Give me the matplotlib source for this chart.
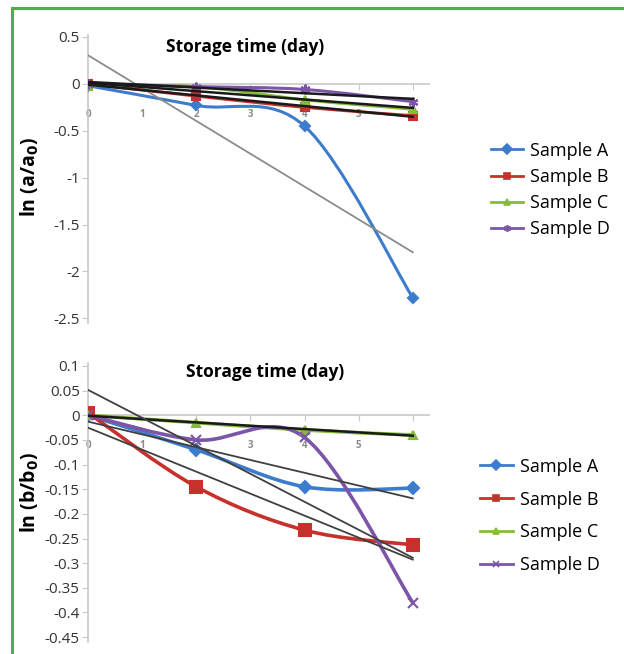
import matplotlib
matplotlib.use("Agg")
import matplotlib.pyplot as plt
import numpy as np
from matplotlib.path import Path
from matplotlib.patches import PathPatch
from matplotlib.lines import Line2D

plt.rcParams['font.family'] = ['Open Sans', 'DejaVu Sans']

days = [0, 2, 4, 6]
samples = ['Sample A', 'Sample B', 'Sample C', 'Sample D']

# ln(a/a0)
a_A = [-0.02, -0.23, -0.45, -2.28]
a_B = [0.0, -0.13, -0.25, -0.34]
a_C = [-0.02, -0.03, -0.17, -0.27]
a_D = [0.0, -0.03, -0.06, -0.19]

# ln(b/b0)
b_A = [0.0, -0.07, -0.145, -0.148]
b_B = [0.005, -0.145, -0.233, -0.263]
b_C = [0.0, -0.015, -0.03, -0.04]
b_D = [0.0, -0.05, -0.045, -0.38]

x_ticks = [0, 1, 2, 3, 4, 5, 6]
x_labels = ['0', '1', '2', '3', '4', '5', '']
top_yticks = [0.5, 0, -0.5, -1, -1.5, -2, -2.5]
bot_yticks = [0.1, 0.05, 0, -0.05, -0.1, -0.15, -0.2, -0.25, -0.3, -0.35, -0.4, -0.45]

colors = ['#3d7ccc', '#c8302c', '#86bb3c', '#7d55a8']


def smooth_path(x, y):
    # Excel-like smoothed line: cubic bezier segments through the points
    pts = np.column_stack([x, y]).astype(float)
    n = len(pts)
    verts = [pts[0]]
    codes = [Path.MOVETO]
    for i in range(n - 1):
        p0 = pts[i - 1] if i > 0 else pts[i]
        p1 = pts[i]
        p2 = pts[i + 1]
        p3 = pts[i + 2] if i + 2 < n else pts[i + 1]
        c1 = p1 + (p2 - p0) / 6.0
        c2 = p2 - (p3 - p1) / 6.0
        verts += [c1, c2, p2]
        codes += [Path.CURVE4] * 3
    return Path(verts, codes)


def draw_panel(ax, series, markers, msizes, trend_colors, trend_lw, lw):
    for ys, c, m, ms in zip(series, colors, markers, msizes):
        ax.add_patch(PathPatch(smooth_path(days, ys), facecolor='none',
                               edgecolor=c, lw=lw, zorder=3))
        ax.plot(days, ys, ls='none', marker=m, color=c, ms=ms,
                mew=1.5, zorder=4)
    for ys, tc, tlw in zip(series, trend_colors, trend_lw):
        k, b = np.polyfit(days, ys, 1)
        xs = np.array([0, 6])
        ax.plot(xs, k * xs + b, color=tc, lw=tlw, zorder=5)
    for s in ['top', 'right']:
        ax.spines[s].set_visible(False)
    ax.spines['bottom'].set_position(('data', 0))
    ax.spines['bottom'].set_color('#c8c8c8')
    ax.spines['left'].set_color('#c8c8c8')
    ax.spines['bottom'].set_linewidth(1.2)
    ax.spines['left'].set_linewidth(1.2)
    ax.set_xlim(0, 6.3)
    ax.set_xticks(x_ticks)
    ax.set_xticklabels(x_labels)
    ax.tick_params(axis='x', direction='out', length=4, color='#c8c8c8',
                   labelsize=7, labelcolor='#8a8a8a', pad=14)
    ax.tick_params(axis='y', direction='out', length=4, color='#c8c8c8',
                   labelsize=11, labelcolor='#333333', pad=2)
    for t in ax.get_xticklabels():
        t.set_fontweight('bold')
    h = [Line2D([0], [0], color=c, lw=2, marker=m, ms=5, mew=1.2)
         for c, m in zip(colors, markers)]
    return h


fig = plt.figure(figsize=(6.24, 6.54), dpi=100)

ax1 = fig.add_axes([0.141, 0.506, 0.5465, 0.4404])
h1 = draw_panel(ax1, [a_A, a_B, a_C, a_D], ['D', 's', '^', (6, 2, 0)],
                [5, 6, 6, 7], ['#8c8c8c', '#1a1a1a', '#1a1a1a', '#1a1a1a'],
                [1.3, 1.8, 1.8, 1.8], 2.2)
ax1.set_ylim(-2.55, 0.52)
ax1.set_yticks(top_yticks)
ax1.set_yticklabels(['0.5', '0', '-0.5', '-1', '-1.5', '-2', '-2.5'])
ax1.text(0.46, 0.958, 'Storage time (day)', transform=ax1.transAxes,
         ha='center', va='center', fontsize=12.5, fontweight='bold')
fig.text(30 / 624, 1 - 177 / 654, r'ln (a/a$_\mathbf{0}$)', rotation=90,
         ha='center', va='center', fontsize=14, fontweight='bold')
fig.legend(h1, samples, loc='center left', bbox_to_anchor=(0.772, 1 - 190 / 654),
           frameon=False, fontsize=13, handlelength=1.8, handletextpad=0.4,
           labelspacing=0.46, borderpad=0)

ax2 = fig.add_axes([0.141, 0.0183, 0.5465, 0.4259])
h2 = draw_panel(ax2, [b_A, b_B, b_C, b_D], ['D', 's', '^', 'x'],
                [6, 8, 6, 7], ['#404040', '#404040', '#1a1a1a', '#404040'],
                [1.3, 1.3, 1.8, 1.3], 2.6)
ax2.set_ylim(-0.46, 0.105)
ax2.set_yticks(bot_yticks)
ax2.set_yticklabels(['0.1', '0.05', '0', '-0.05', '-0.1', '-0.15', '-0.2',
                     '-0.25', '-0.3', '-0.35', '-0.4', '-0.45'])
ax2.text(0.52, 0.969, 'Storage time (day)', transform=ax2.transAxes,
         ha='center', va='center', fontsize=12.5, fontweight='bold')
fig.text(30 / 624, 1 - 492 / 654, r'ln (b/b$_\mathbf{0}$)', rotation=90,
         ha='center', va='center', fontsize=14, fontweight='bold')
fig.legend(h2, samples, loc='center left', bbox_to_anchor=(0.755, 1 - 516 / 654),
           frameon=False, fontsize=13, handlelength=1.8, handletextpad=0.4,
           labelspacing=0.82, borderpad=0)

# green frame
green = '#4caf50'
fig.add_artist(Line2D([12 / 624, 1], [1 - 8 / 654, 1 - 8 / 654], color=green,
                      lw=2.2, transform=fig.transFigure))
fig.add_artist(Line2D([12 / 624, 12 / 624], [0, 1 - 8 / 654], color=green,
                      lw=2.2, transform=fig.transFigure))

fig.savefig('out.png', dpi=100)
